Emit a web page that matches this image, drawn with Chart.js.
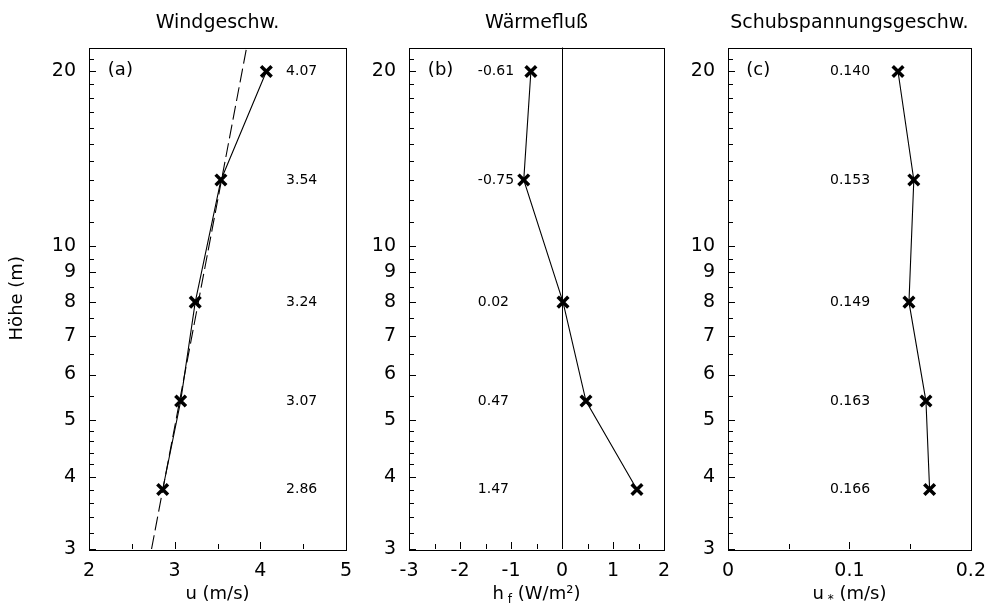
<!DOCTYPE html>
<html><head><meta charset="utf-8">
<script src="https://cdn.jsdelivr.net/npm/chart.js@4.4.0/dist/chart.umd.min.js"></script>
<style>
html,body{margin:0;padding:0;background:#fff;}
#wrap{position:relative;width:997px;height:605px;background:#fff;}
canvas{position:absolute;left:0;top:0;}
</style>
</head><body><div id="wrap">
<canvas id="ca" width="997" height="605"></canvas>
<canvas id="cb" width="997" height="605"></canvas>
<canvas id="cc" width="997" height="605"></canvas>
</div>
<script>
// ---- data ----
const heights = [20, 13, 8, 5.4, 3.8];
const windSpeed = [4.07, 3.54, 3.24, 3.07, 2.86];
const heatFlux = [-0.61, -0.75, 0.02, 0.47, 1.47];
const frictionVel = [0.140, 0.153, 0.149, 0.163, 0.166];
const windLabels = ['4.07', '3.54', '3.24', '3.07', '2.86'];
const heatLabels = ['-0.61', '-0.75', '0.02', '0.47', '1.47'];
const frictionLabels = ['0.140', '0.153', '0.149', '0.163', '0.166'];
const fitHeights = [3, 22];
const fitSpeed = [2.73, 3.84];
const panelTitles = ['Windgeschw.', 'Wärmefluß', 'Schubspannungsgeschw.'];
const panelTags = ['(a)', '(b)', '(c)'];
const yTicks = [3, 3.2, 3.4, 3.6, 3.8, 4, 4.2, 4.4, 4.6, 4.8, 5, 5.5, 6, 6.5, 7, 7.5, 8, 8.5, 9, 9.5, 10, 11, 12, 13, 14, 15, 16, 17, 18, 19, 20, 21];
const yTickLabels = [3, 4, 5, 6, 7, 8, 9, 10, 20];
const xTicksA = [2, 2.5, 3, 3.5, 4, 4.5, 5];
const xLabelsA = [2, 3, 4, 5];
const xTicksB = [-3, -2.5, -2, -1.5, -1, -0.5, 0, 0.5, 1, 1.5, 2];
const xLabelsB = [-3, -2, -1, 0, 1, 2];
const xTicksC = [0, 0.05, 0.1, 0.15, 0.2];
const xLabelsC = [0, 0.1, 0.2];

// ---- styling / layout ----
const FONT = "'DejaVu Sans', 'Liberation Sans', sans-serif";
const W = 997;

function pts(xs, ys) { return ys.map((y, i) => ({ x: xs[i], y: y })); }

function panelPlugin(p) {
  return {
    id: 'panel_' + p.id,
    beforeDatasetsDraw(chart) {
      const ctx = chart.ctx, a = chart.chartArea;
      if (p.zeroLine) {
        const x = Math.round(chart.scales.x.getPixelForValue(0)) + 0.5;
        ctx.save();
        ctx.strokeStyle = '#000'; ctx.lineWidth = 1;
        ctx.beginPath(); ctx.moveTo(x, a.top); ctx.lineTo(x, a.bottom); ctx.stroke();
        ctx.restore();
      }
    },
    afterDatasetsDraw(chart) {
      const ctx = chart.ctx, a = chart.chartArea;
      const xs = chart.scales.x, ys = chart.scales.y;
      ctx.save();
      ctx.strokeStyle = '#000'; ctx.lineWidth = 1;
      // frame
      ctx.strokeRect(Math.round(a.left) + 0.5, Math.round(a.top) + 0.5,
        Math.round(a.right - a.left), Math.round(a.bottom - a.top));
      // inward tick marks
      ctx.beginPath();
      ys.ticks.forEach(t => {
        const y = Math.round(ys.getPixelForValue(t.value)) + 0.5;
        const len = yTickLabels.includes(t.value) ? 7 : 5;
        ctx.moveTo(a.left, y); ctx.lineTo(a.left + len, y);
      });
      xs.ticks.forEach(t => {
        const x = Math.round(xs.getPixelForValue(t.value)) + 0.5;
        const len = p.xLabels.includes(t.value) ? 7 : 5;
        ctx.moveTo(x, a.bottom); ctx.lineTo(x, a.bottom - len);
      });
      ctx.stroke();
      // value annotations
      ctx.fillStyle = '#000';
      ctx.font = '14px ' + FONT;
      ctx.textAlign = 'left'; ctx.textBaseline = 'middle';
      const lx = xs.getPixelForValue(p.labelX);
      p.labels.forEach((s, i) => ctx.fillText(s, lx, ys.getPixelForValue(heights[i])));
      // panel tag
      ctx.font = '18px ' + FONT;
      ctx.fillText(p.tag, xs.getPixelForValue(p.tagX), ys.getPixelForValue(20) - 1);
      // panel title
      ctx.font = '19px ' + FONT;
      ctx.textAlign = 'center'; ctx.textBaseline = 'alphabetic';
      ctx.fillText(p.title, (a.left + a.right) / 2, 28);
      // x axis title (with sub-script part)
      const big = '18px ' + FONT, small = '12px ' + FONT;
      let total = 0;
      p.xTitle.forEach(seg => { ctx.font = seg.sub ? small : big; total += ctx.measureText(seg.t).width; });
      let x0 = (a.left + a.right) / 2 - total / 2;
      ctx.textAlign = 'left';
      p.xTitle.forEach(seg => {
        ctx.font = seg.sub ? small : big;
        ctx.fillText(seg.t, x0, seg.sub ? 603 : 599);
        x0 += ctx.measureText(seg.t).width;
      });
      // y axis title
      if (p.yTitle) {
        ctx.save();
        ctx.translate(22, (a.top + a.bottom) / 2);
        ctx.rotate(-Math.PI / 2);
        ctx.font = '18px ' + FONT;
        ctx.textAlign = 'center'; ctx.textBaseline = 'alphabetic';
        ctx.fillText(p.yTitle, 0, 0);
        ctx.restore();
      }
      ctx.restore();
    }
  };
}

function profileDataset(xs) {
  return {
    data: pts(xs, heights), showLine: true, borderColor: '#000', borderWidth: 1.1,
    tension: 0, pointStyle: 'crossRot', pointRadius: 7.5, pointBorderWidth: 3.5,
    pointBorderColor: '#000', pointBackgroundColor: '#000'
  };
}

function makeChart(canvasId, p) {
  return new Chart(document.getElementById(canvasId), {
    type: 'scatter',
    data: { datasets: p.datasets },
    options: {
      responsive: false, animation: false, devicePixelRatio: 1,
      layout: { padding: { left: p.padLeft, right: W - p.right, top: 47.5, bottom: 0 } },
      plugins: { legend: { display: false }, tooltip: { enabled: false }, title: { display: false } },
      scales: {
        x: {
          type: 'linear', min: p.xMin, max: p.xMax,
          afterBuildTicks: s => { s.ticks = p.xTicks.map(v => ({ value: v })); },
          afterFit: s => { s.height = 56; },
          grid: { display: false, drawTicks: false }, border: { display: false },
          ticks: {
            autoSkip: false, maxRotation: 0, padding: 11, color: '#000',
            font: { family: FONT, size: 19 },
            callback: v => p.xLabels.includes(v) ? String(v) : ''
          }
        },
        y: {
          type: 'logarithmic', min: 3, max: 22,
          afterBuildTicks: s => { s.ticks = yTicks.map(v => ({ value: v })); },
          afterFit: s => { s.width = p.yAxisWidth; },
          grid: { display: false, drawTicks: false }, border: { display: false },
          ticks: {
            autoSkip: false, padding: 13, color: '#000',
            font: { family: FONT, size: 19 },
            callback: v => yTickLabels.includes(v) ? String(v) : ''
          }
        }
      }
    },
    plugins: [panelPlugin(p)]
  });
}

makeChart('ca', {
  id: 'a', padLeft: 0, yAxisWidth: 89, right: 346,
  xMin: 2, xMax: 5, xTicks: xTicksA, xLabels: xLabelsA,
  labels: windLabels, labelX: 4.3, tag: panelTags[0], tagX: 2.22,
  title: panelTitles[0], yTitle: 'Höhe (m)',
  xTitle: [{ t: 'u (m/s)' }],
  datasets: [
    profileDataset(windSpeed),
    { data: pts(fitSpeed, fitHeights), showLine: true, borderColor: '#000', borderWidth: 1.1,
      borderDash: [14, 5], pointRadius: 0 }
  ]
});

makeChart('cb', {
  id: 'b', padLeft: 349, yAxisWidth: 60, right: 664,
  xMin: -3, xMax: 2, xTicks: xTicksB, xLabels: xLabelsB,
  labels: heatLabels, labelX: -1.65, tag: panelTags[1], tagX: -2.63,
  title: panelTitles[1], zeroLine: true,
  xTitle: [{ t: 'h' }, { t: ' f', sub: true }, { t: ' (W/m²)' }],
  datasets: [profileDataset(heatFlux)]
});

makeChart('cc', {
  id: 'c', padLeft: 668, yAxisWidth: 60, right: 982,
  xMin: 0, xMax: 0.2, xTicks: xTicksC, xLabels: xLabelsC,
  labels: frictionLabels, labelX: 0.084, tag: panelTags[2], tagX: 0.015,
  title: panelTitles[2],
  xTitle: [{ t: 'u' }, { t: ' *', sub: true }, { t: ' (m/s)' }],
  datasets: [profileDataset(frictionVel)]
});
</script>
</body></html>
